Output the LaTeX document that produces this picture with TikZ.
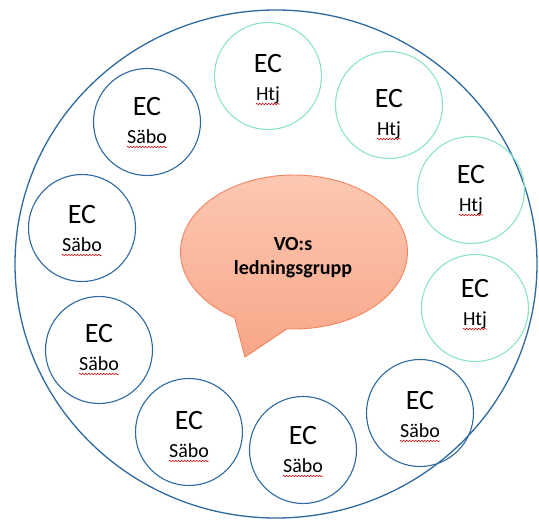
\documentclass[tikz,border=0pt]{standalone}
\usepackage{fontspec}
\setmainfont{Carlito}
\usetikzlibrary{shapes.callouts,decorations.pathmorphing}
\definecolor{ringblue}{RGB}{46,106,160}
\definecolor{ringmint}{RGB}{140,228,196}
\definecolor{bubtop}{RGB}{252,200,178}
\definecolor{bubbot}{RGB}{248,166,136}
\definecolor{bubline}{RGB}{242,132,94}

\begin{document}
\begin{tikzpicture}[x=1pt,y=-1pt,
    ring/.style={circle,draw=#1,line width=1.1pt,minimum size=107pt,inner sep=0pt},
    ectext/.style={anchor=base,inner sep=0pt,font=\fontsize{28}{30}\selectfont},
    unittext/.style={anchor=base,inner sep=0pt,font=\fontsize{20}{22}\selectfont},
    spell/.style={red!85!black,line width=0.5pt,decorate,
      decoration={snake,amplitude=0.8pt,segment length=3pt}}]
  \useasboundingbox (0,0) rectangle (539,520);
  \draw[ringblue,line width=1.3pt] (276,264) ellipse [x radius=261pt,y radius=254pt];
  % the groups round the middle
  \foreach \n/\x/\y/\d/\c/\w in {h1/268/76/-4/ringmint/Htj, h2/389/105/2/ringmint/Htj,
      h3/471/190/-7/ringmint/Htj, h4/475/308/-11/ringmint/Htj,
      s6/420/413/-4/ringblue/Säbo, s5/303/450/-6/ringblue/Säbo,
      s4/189/432/-3/ringblue/Säbo, s3/99/350/-8/ringblue/Säbo,
      s2/82/228/-5/ringblue/Säbo, s1/147/122/-7/ringblue/Säbo}{
    \node[ring=\c] (c\n) at (\x,\y) {};
    \node[ectext] (e\n) at (\x,{\y+\d}) {EC};
    \node[unittext] (w\n) at (\x,{\y+\d+28}) {\w};
    \draw[spell] ([yshift=-4pt]w\n.base west) -- ([yshift=-4pt]w\n.base east);
  }
  \node[ellipse callout,callout absolute pointer={(245,357)},callout pointer arc=28,
    minimum width=227pt,minimum height=154pt,draw=bubline,line width=0.9pt,
    top color=bubtop,bottom color=bubbot] (vo) at (294,252) {};
  \node[align=center,font=\fontsize{20}{24}\bfseries] (vot) at (293,258) {VO:s\\ledningsgrupp};
\end{tikzpicture}
\end{document}
